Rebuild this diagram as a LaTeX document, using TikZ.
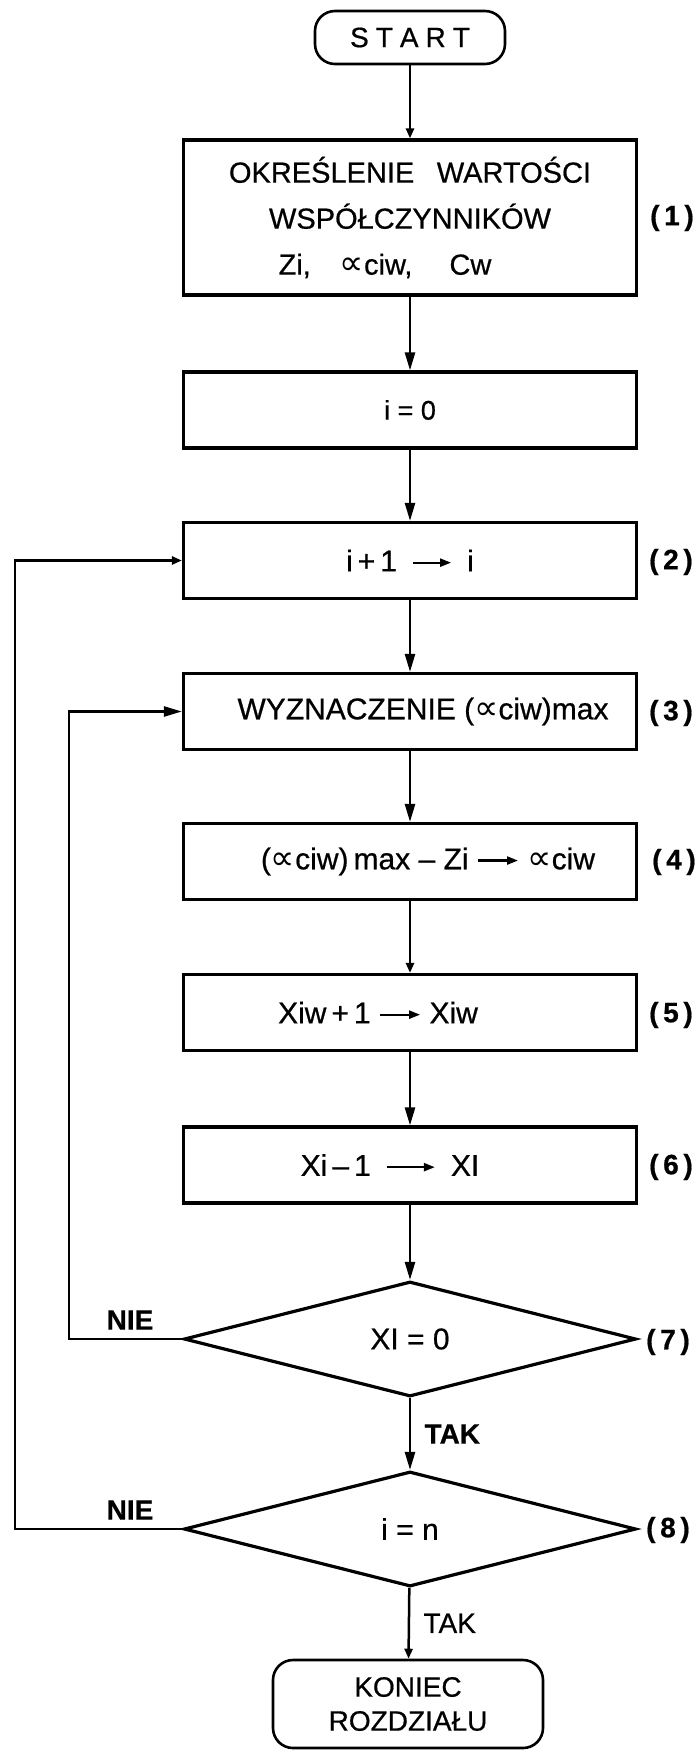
\documentclass[tikz,border=0pt]{standalone}
\usepackage{fontspec}
\setmainfont{Liberation Sans}[FakeBold=0.6]
\newfontfamily\djv{DejaVu Sans}
\usetikzlibrary{shapes.geometric,arrows.meta}
\newcommand{\flowarr}[1]{\tikz[baseline=-0.55ex]\draw[line width=2.2pt,-{Triangle[length=11pt,width=8pt]}] (0pt,0pt) -- (#1,0pt);}
\newcommand{\prp}{{\djv\fontsize{34}{34}\selectfont ∝}}
\tikzset{
  box/.style={draw, line width=3.2pt, minimum width=453pt, minimum height=76pt, inner sep=0pt},
  dec/.style={draw, diamond, line width=3.2pt, minimum width=452pt, minimum height=115pt, inner sep=0pt},
  term/.style={draw, rounded corners=20pt, line width=2.6pt, inner sep=0pt},
  conn/.style={line width=2.5pt},
  arr/.style={conn, -{Triangle[length=18pt,width=10pt]}},
  sarr/.style={conn, -{Triangle[length=10pt,width=8pt]}},
  lab/.style={font=\bfseries\fontsize{28}{32}\selectfont},
  txt/.style={font=\fontsize{30}{34}\selectfont}
}
\begin{document}
\begin{tikzpicture}[x=1pt,y=-1pt]
\useasboundingbox (0,0) rectangle (699,1751);
% terminals and boxes
\node[term, font=\fontsize{28}{32}\selectfont, minimum width=190pt, minimum height=53pt] (start) at (410,37.5) {S\kern7pt T\kern7pt A\kern7pt R\kern7pt T};
\node[box, minimum height=155pt, align=center, font=\fontsize{29}{46}\selectfont] (b1) at (410,217.5)
  {OKREŚLENIE\enspace\ WARTOŚCI\\WSPÓŁCZYNNIKÓW\\Zi,\quad\prp ciw,\quad\ Cw\hspace*{50pt}};
\node[box, font=\fontsize{27}{32}\selectfont] (b0) at (410,410) {i = 0};
\node[box, txt] (b2) at (410,560.5) {i\,+\,1\enspace\flowarr{38pt}\enspace i};
\node[box, txt] (b3) at (410,711.5) {\hspace*{26pt}WYZNACZENIE (\prp ciw)max};
\node[box, txt] (b4) at (410,861.5) {\hspace*{36pt}(\prp ciw)\,max -- Zi \flowarr{40pt} \prp ciw};
\node[box, txt] (b5) at (410,1012.5) {Xiw\,+\,1 \flowarr{40pt} Xiw\hspace*{64pt}};
\node[box, txt] (b6) at (410,1165) {Xi\,--\,1\enspace \flowarr{48pt}\enspace XI\hspace*{40pt}};
\node[dec, txt] (d7) at (410,1339) {XI = 0};
\node[dec, txt] (d8) at (410,1529) {i = n};
\node[term, align=center, minimum width=270pt, minimum height=88pt, font=\fontsize{28}{34}\selectfont] (end) at (408,1704) {KONIEC\\ROZDZIAŁU};
% step numbers
\node[lab] (n1) at (672,218) {(\,1\,)};
\node[lab] (n2) at (671,562) {(\,2\,)};
\node[lab] (n3) at (671,713) {(\,3\,)};
\node[lab] (n4) at (674,862) {(\,4\,)};
\node[lab] (n5) at (671,1015) {(\,5\,)};
\node[lab] (n6) at (671,1167) {(\,6\,)};
\node[lab] (n7) at (668,1342) {(\,7\,)};
\node[lab] (n8) at (668,1530) {(\,8\,)};
% main flow
\draw[sarr] (start) -- (b1);
\draw[arr] (b1) -- (b0);
\draw[arr] (b0) -- (b2);
\draw[arr] (b2) -- (b3);
\draw[arr] (b3) -- (b4);
\draw[sarr] (b4) -- (b5);
\draw[arr] (b5) -- (b6);
\draw[arr] (b6) -- (d7);
\draw[arr] (d7) -- node[lab, right, xshift=10pt] (t1) {TAK} (d8);
\draw[sarr] (d8) -- node[font=\fontsize{28}{32}\selectfont, right, xshift=10pt] (t2) {TAK} (end);
% loops
\coordinate (l7) at (69,0);
\coordinate (l8) at (15,0);
\draw[arr] (d7.west) -- (d7.west -| l7) -- (b3.west -| l7) -- (b3.west);
\draw[sarr] (d8.west) -- (d8.west -| l8) -- (b2.west -| l8) -- (b2.west);
\node[lab] (nie1) at (130,1320) {NIE};
\node[lab] (nie2) at (130,1510) {NIE};
\end{tikzpicture}
\end{document}
